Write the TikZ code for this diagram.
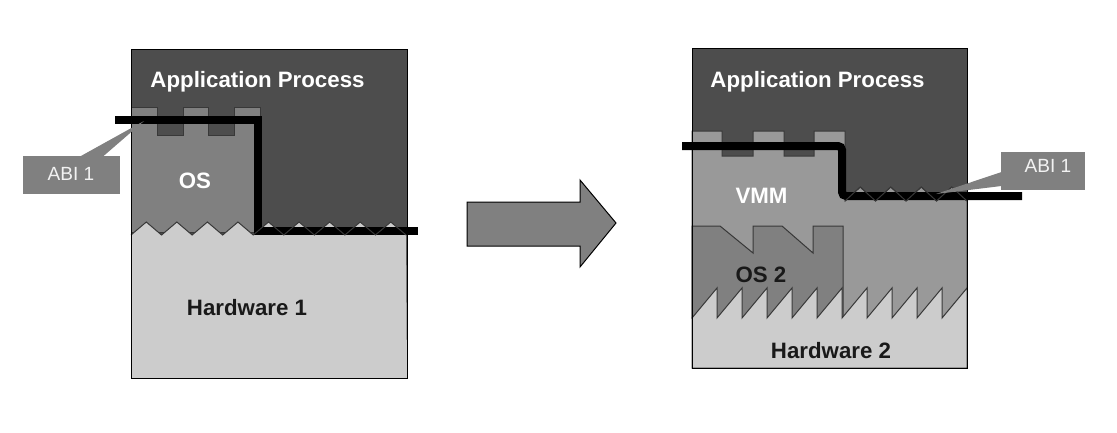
\documentclass[tikz,border=0pt]{standalone}
\usepackage{fontspec}
\setmainfont{Liberation Sans}
\definecolor{appgray}{HTML}{4D4D4D}
\definecolor{osgray}{HTML}{808080}
\definecolor{vmmgray}{HTML}{999999}
\definecolor{hwgray}{HTML}{CCCCCC}
\definecolor{edgegray}{HTML}{383838}
\begin{document}
\begin{tikzpicture}[
    x=0.75pt,
    y=-0.75pt,
    layer/.style={draw=edgegray, line width=0.75pt},
    abiline/.style={draw=black, line width=6pt},
    frame/.style={draw=black, line width=0.75pt},
    callout/.style={fill=osgray},
    title/.style={font=\fontsize{16.7}{20}\selectfont\bfseries, anchor=base},
    abitext/.style={font=\fontsize{14.3}{17}\selectfont, text=white!95!black, anchor=base}
  ]
    \useasboundingbox (0,0) rectangle (1117,432);

    \fill[appgray] (131,49) rectangle (407,378);
    \filldraw[layer, fill=osgray] (131,107) -- (157,107) -- (157,135) -- (183,135) -- (183,107) -- (208,107) -- (208,135) -- (234,135) -- (234,107) -- (260,107) -- (260,232) -- (131,232) -- cycle;
    \fill[hwgray] (131,235) \foreach \k in {0,...,8} { -- ({146.28+30.56*\k},222) -- ({161.56+30.56*\k},235) } -- (407,378) -- (131,378) -- cycle;
    \draw[abiline] (115,120) -- (258,120) -- (258,231) -- (418,231);
    \draw[layer] (131,235) \foreach \k in {0,...,8} { -- ({146.28+30.56*\k},222) -- ({161.56+30.56*\k},235) };
    \draw[frame] (131,49) rectangle (407,378);

    \node[title, text=white] (appL) at (257.5,87) {Application Process};
    \node[title, text=white] (osL) at (195,188) {OS};
    \node[title, text=black!90] (hwL) at (247,315) {Hardware 1};

    \fill[callout] (23,156) rectangle (120,194);
    \fill[callout] (80,156.5) -- (144,121) -- (103,156.5) -- cycle;
    \node[abitext] (abiL) at (71,180) {ABI 1};

    \filldraw[frame, fill=osgray] (467,202) -- (580,202) -- (580,180) -- (616,223) -- (580,267) -- (580,246) -- (467,246) -- cycle;

    \fill[appgray] (692,48) rectangle (967,368);
    \filldraw[layer, fill=vmmgray] (692,131) -- (722,131) -- (722,156) -- (753,156) -- (753,131) -- (784,131) -- (784,156) -- (814,156) -- (814,131) -- (845,131) -- (845,201) \foreach \k in {0,...,3} { -- ({860.25+30.5*\k},187) -- ({875.5+30.5*\k},201) } -- (967,318) -- (692,318) -- cycle;
    \filldraw[layer, fill=osgray] (692,226) -- (720,226) -- (753,253) -- (753,226) -- (782,226) -- (813,253) -- (813,226) -- (843,226) -- (843,318) -- (692,318) -- cycle;
    \filldraw[layer, fill=hwgray] (692,318) \foreach \k in {1,...,11} { -- ({692+25*\k},288) -- ({692+25*\k},318) } -- (967,368) -- (692,368) -- cycle;
    \draw[abiline, rounded corners=3pt] (682,146) -- (842,146) -- (842,196) -- (1022,196);
    \draw[layer] (845,201) \foreach \k in {0,...,3} { -- ({860.25+30.5*\k},187) -- ({875.5+30.5*\k},201) };
    \draw[frame] (692,48) rectangle (967,368);

    \node[title, text=white] (appR) at (817.5,87) {Application Process};
    \node[title, text=white] (vmmR) at (761.5,203) {VMM};
    \node[title, text=black!90] (os2R) at (761,282) {OS 2};
    \node[title, text=black!90] (hwR) at (831,358) {Hardware 2};

    \fill[callout] (1001,152) rectangle (1085,190);
    \fill[callout] (1001.5,172) -- (936,194) -- (1001.5,186) -- cycle;
    \node[abitext] (abiR) at (1048,172) {ABI 1};
\end{tikzpicture}
\end{document}
